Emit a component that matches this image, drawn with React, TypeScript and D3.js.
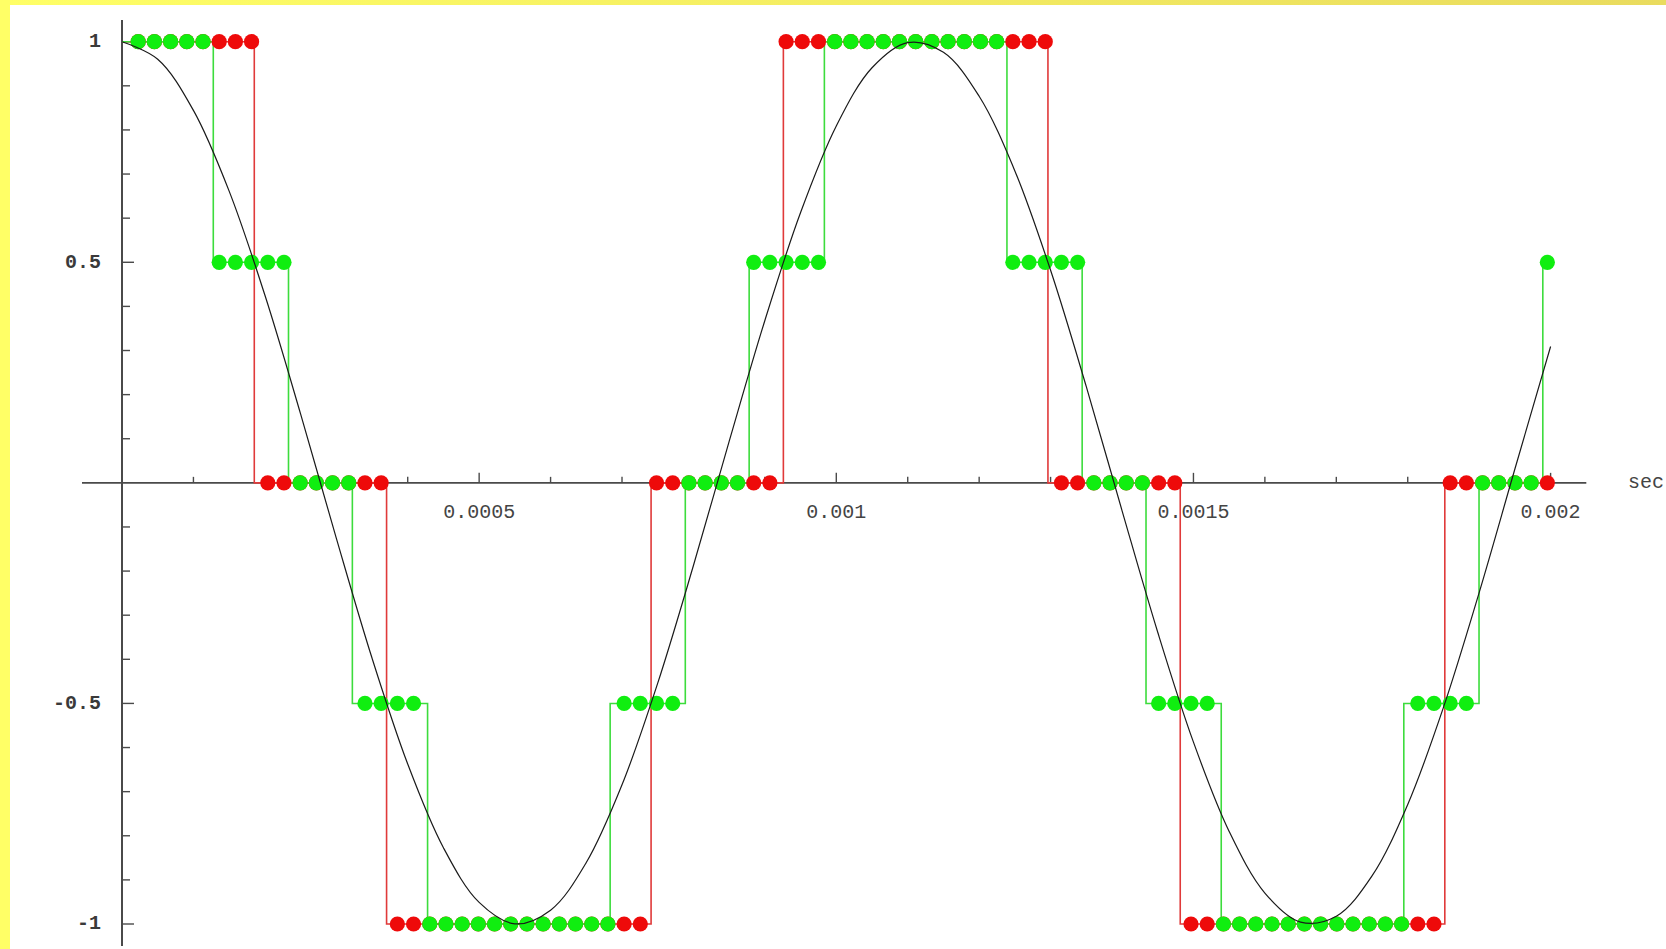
import React from 'react';
import * as d3 from 'd3';

// Sampling: 44.1 kHz, samples n = 1..88
const SAMPLE_RATE = 44100;

// 5-level quantized samples (green)
const greenSamples = [
  1, 1, 1, 1, 1,
  0.5, 0.5, 0.5, 0.5, 0.5,
  0, 0, 0, 0,
  -0.5, -0.5, -0.5, -0.5,
  -1, -1, -1, -1, -1, -1, -1, -1, -1, -1, -1, -1,
  -0.5, -0.5, -0.5, -0.5,
  0, 0, 0, 0,
  0.5, 0.5, 0.5, 0.5, 0.5,
  1, 1, 1, 1, 1, 1,
  1, 1, 1, 1, 1,
  0.5, 0.5, 0.5, 0.5, 0.5,
  0, 0, 0, 0,
  -0.5, -0.5, -0.5, -0.5,
  -1, -1, -1, -1, -1, -1, -1, -1, -1, -1, -1, -1,
  -0.5, -0.5, -0.5, -0.5,
  0, 0, 0, 0,
  0.5,
];

// 3-level quantized samples (red)
const redSamples = [
  1, 1, 1, 1, 1, 1, 1, 1,
  0, 0, 0, 0, 0, 0, 0, 0,
  -1, -1, -1, -1, -1, -1, -1, -1, -1, -1, -1, -1, -1, -1, -1, -1,
  0, 0, 0, 0, 0, 0, 0, 0,
  1, 1, 1, 1, 1, 1, 1, 1, 1,
  1, 1, 1, 1, 1, 1, 1, 1,
  0, 0, 0, 0, 0, 0, 0, 0,
  -1, -1, -1, -1, -1, -1, -1, -1, -1, -1, -1, -1, -1, -1, -1, -1,
  0, 0, 0, 0, 0, 0, 0,
];

// Continuous quantized signals (step lines)
const greenStepTimes = [0, 0.0001278, 0.0002331, 0.0003225, 0.0004278, 0.0006834, 0.0007886, 0.000878, 0.0009833, 0.0012389, 0.0013442, 0.0014336, 0.0015389, 0.0017945, 0.0018998, 0.0019891];
const greenStepLevels = [1, 0.5, 0, -0.5, -1, -0.5, 0, 0.5, 1, 0.5, 0, -0.5, -1, -0.5, 0, 0.5];
const redStepTimes = [0, 0.0001852, 0.0003704, 0.0007407, 0.0009259, 0.0012963, 0.0014815, 0.0018519];
const redStepLevels = [1, 0, -1, 0, 1, 0, -1, 0];
const END_TIME = 0.002;

// Analog signal (black curve), every 0.00005 s
const CURVE_STEP = 0.00005;
const curveValues = [
  1.0, 0.9603, 0.8443, 0.6613, 0.4258, 0.1564, -0.1253, -0.3971, -0.6374, -0.8271,
  -0.9511, -0.9995, -0.9686, -0.8607, -0.6845, -0.454, -0.1874, 0.0941, 0.3681, 0.6129,
  0.809, 0.9409, 0.998, 0.9759, 0.8763, 0.7071, 0.4818, 0.2181, -0.0628, -0.3387,
  -0.5878, -0.7902, -0.9298, -0.9956, -0.9823, -0.891, -0.729, -0.509, -0.2487, 0.0314,
  0.309,
];

const xTickLabels = ['0.0005', '0.001', '0.0015', '0.002'];
const xTickLabelValues = [0.0005, 0.001, 0.0015, 0.002];
const yTickLabels = ['1', '0.5', '-0.5', '-1'];
const yTickLabelValues = [1, 0.5, -0.5, -1];

const W = 1666;
const H = 949;

export default function App() {
  const x = d3.scaleLinear().domain([0, 0.002]).range([122, 1550.6]);
  const y = d3.scaleLinear().domain([-1, 1]).range([924, 41.7]);

  const xMinor = d3.range(1, 21).map((i) => i * 0.0001);
  const yMinor = d3.range(-10, 11).filter((i) => i !== 0).map((i) => i / 10);

  const stepLine = d3
    .line<[number, number]>()
    .x((d) => x(d[0]))
    .y((d) => y(d[1]))
    .curve(d3.curveStepAfter);

  const greenPts: [number, number][] = greenStepTimes.map((t, i) => [t, greenStepLevels[i]]);
  greenPts.push([END_TIME, greenStepLevels[greenStepLevels.length - 1]]);
  const redPts: [number, number][] = redStepTimes.map((t, i) => [t, redStepLevels[i]]);
  redPts.push([END_TIME, redStepLevels[redStepLevels.length - 1]]);

  const curveLine = d3
    .line<number>()
    .x((_, i) => x(i * CURVE_STEP))
    .y((d) => y(d))
    .curve(d3.curveCatmullRom.alpha(0.5));

  const sampleT = (i: number) => (i + 1) / SAMPLE_RATE;
  const axisColor = '#4a4a4a';
  const mono = '"Liberation Mono", "DejaVu Sans Mono", monospace';
  const R = 7.6;

  return (
    <svg
      width={W}
      height={H}
      style={{ position: 'absolute', left: 0, top: 0, display: 'block', background: '#fff' }}
    >
      <defs>
        <linearGradient id="topband" x1="0" x2="1" y1="0" y2="0">
          <stop offset="0" stopColor="#ffff66" />
          <stop offset="1" stopColor="#e9db5e" />
        </linearGradient>
      </defs>
      <rect x={0} y={0} width={W} height={H} fill="#ffffff" />
      <rect x={0} y={0} width={W} height={5} fill="url(#topband)" />
      <rect x={0} y={0} width={10} height={H} fill="#ffff66" />

      {/* axes */}
      <line x1={x(-0.000056)} x2={x(0.00205)} y1={y(0)} y2={y(0)} stroke={axisColor} strokeWidth={1.6} />
      <line x1={x(0)} x2={x(0)} y1={y(1.049)} y2={y(-1.05)} stroke={axisColor} strokeWidth={2} />
      {xMinor.map((v, i) => {
        const major = (i + 1) % 5 === 0;
        return (
          <line key={'xt' + i} x1={x(v)} x2={x(v)} y1={y(0)} y2={y(0) - (major ? 10 : 6)} stroke={axisColor} strokeWidth={1.4} />
        );
      })}
      {yMinor.map((v, i) => {
        const major = Math.abs(v * 2 - Math.round(v * 2)) < 1e-9;
        return (
          <line key={'yt' + i} x1={x(0)} x2={x(0) + (major ? 12 : 8)} y1={y(v)} y2={y(v)} stroke={axisColor} strokeWidth={1.4} />
        );
      })}
      {xTickLabels.map((s, i) => (
        <text key={'xl' + i} x={x(xTickLabelValues[i])} y={y(0) + 30} textAnchor="middle" dominantBaseline="middle" fontFamily={mono} fontSize={20} fill="#444">
          {s}
        </text>
      ))}
      {yTickLabels.map((s, i) => (
        <text key={'yl' + i} x={101} y={y(yTickLabelValues[i])} textAnchor="end" dominantBaseline="middle" fontFamily={mono} fontSize={20} fontWeight="bold" fill="#3a3a3a">
          {s}
        </text>
      ))}
      <text x={1628} y={y(0)} dominantBaseline="middle" fontFamily={mono} fontSize={20} fill="#444">
        sec
      </text>

      {/* step lines */}
      <path d={stepLine(redPts) || ''} fill="none" stroke="#e03a3a" strokeWidth={1.6} />
      <path d={stepLine(greenPts) || ''} fill="none" stroke="#3ddc3d" strokeWidth={1.6} />

      {/* sample dots */}
      {redSamples.map((v, i) => (
        <circle key={'r' + i} cx={x(sampleT(i))} cy={y(v)} r={R} fill="#ee0a0a" />
      ))}
      {greenSamples.map((v, i) => (
        <circle key={'g' + i} cx={x(sampleT(i))} cy={y(v)} r={R} fill="#10ee10" />
      ))}

      {/* analog signal */}
      <path d={curveLine(curveValues) || ''} fill="none" stroke="#1a1a1a" strokeWidth={1.2} />
    </svg>
  );
}
